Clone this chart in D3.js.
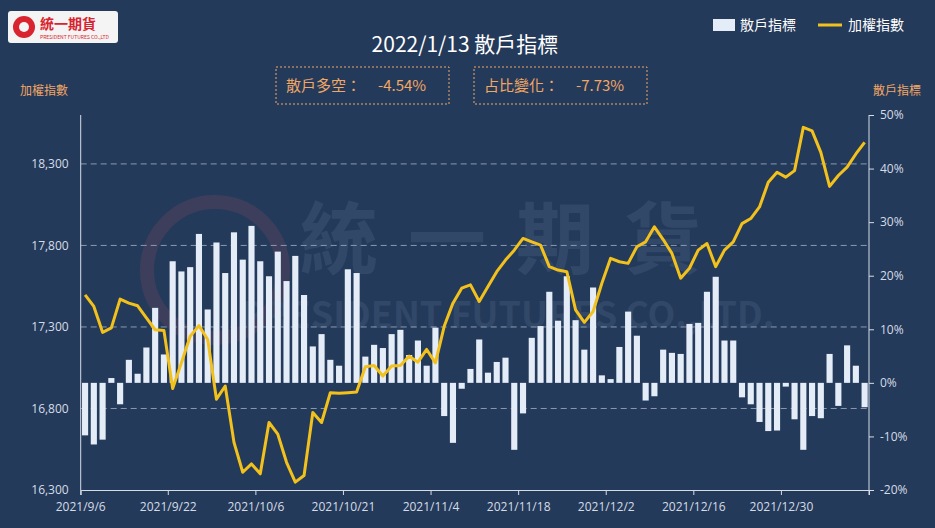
<!DOCTYPE html>
<html><head><meta charset="utf-8">
<script src="https://cdn.jsdelivr.net/npm/d3@7"></script>
<style>
body{margin:0;background:#243a5a;font-family:"Noto Sans CJK TC","Noto Sans",sans-serif;}
</style></head>
<body><svg id="c" width="935" height="528"></svg>
<script>
// 散戶指標 (%) per trading day, 2021/9/6 .. 2022/1/13
var retail = [-9.8,-11.5,-10.6,0.9,-4.0,4.3,1.7,6.6,14.0,5.3,
  22.7,20.8,21.6,27.8,13.7,26.2,20.5,28.1,23.0,29.3,
  22.7,19.9,24.5,19.0,23.7,16.4,6.8,9.1,4.3,3.2,
  21.2,20.5,4.9,7.1,6.5,9.1,9.9,5.2,7.9,3.2,
  10.3,-6.2,-11.2,-1.1,2.6,8.1,1.9,3.9,4.7,-12.5,
  -5.7,8.4,10.6,17.0,11.6,19.9,11.7,6.2,17.8,1.4,
  0.7,6.7,13.3,8.8,-3.3,-2.5,6.2,5.6,5.4,11.0,
  11.2,17.0,19.8,7.9,7.9,-2.7,-4.0,-7.3,-9.0,-8.9,
  -0.7,-6.8,-12.5,-6.2,-6.6,5.4,-4.3,7.0,3.2,-4.54];
// 加權指數
var taiex = [17497,17426,17267,17294,17471,17446,17430,17355,17283,17279,
  16922,17080,17243,17308,17223,16857,16938,16592,16409,16460,
  16399,16714,16643,16470,16348,16389,16775,16714,16897,16893,
  16897,16901,17056,17064,16999,17060,17064,17121,17084,17162,
  17080,17304,17446,17538,17558,17456,17548,17639,17710,17771,
  17843,17822,17802,17670,17649,17639,17405,17328,17395,17568,
  17721,17700,17690,17792,17822,17914,17836,17751,17599,17660,
  17771,17812,17670,17771,17822,17934,17965,18036,18188,18249,
  18219,18259,18524,18503,18371,18162,18229,18280,18361,18432];
var dateLabels = ["2021/9/6","2021/9/22","2021/10/6","2021/10/21","2021/11/4",
  "2021/11/18","2021/12/2","2021/12/16","2021/12/30"];
var leftTicks = [16300,16800,17300,17800,18300];
var rightTicks = [-0.2,-0.1,0,0.1,0.2,0.3,0.4,0.5];

var svg = d3.select("#c");
var L = 80.7, R = 869, T = 115, B = 490;
var idx = d3.range(retail.length);
var x = d3.scaleBand().domain(idx).range([L, R]).paddingInner(0.3).paddingOuter(0.15);
var yl = d3.scaleLinear().domain([16300, 18600]).range([B, T]);
var yr = d3.scaleLinear().domain([-20, 50]).range([B, T]);
var light = "#d6dce6";

svg.append("rect").attr("width", 935).attr("height", 528).attr("fill", "#243a5a");

// watermark
var wm = svg.append("g").attr("opacity", 0.13);
wm.append("circle").attr("cx", 215).attr("cy", 270).attr("r", 68).attr("fill", "none").attr("stroke", "#e05a6a").attr("stroke-width", 14);
wm.append("text").attr("x", 300).attr("y", 268).attr("font-size", 78).attr("font-weight", 700).attr("fill", "#8fa6c8").attr("letter-spacing", 30).text("統一期貨");
wm.append("text").attr("x", 240).attr("y", 328).attr("font-size", 36).attr("font-weight", 700).attr("fill", "#8fa6c8").text("PRESIDENT FUTURES CO.,LTD.");

// grid
svg.append("g").selectAll("line").data(leftTicks.slice(1)).enter().append("line")
  .attr("x1", L).attr("x2", R).attr("y1", yl).attr("y2", yl)
  .attr("stroke", "#8a9ab0").attr("stroke-dasharray", "6,4").attr("stroke-width", 1);

// axes
var ax = svg.append("g").attr("transform", "translate(0," + B + ")")
  .call(d3.axisBottom(x).tickValues(idx.filter(function(i){ return i % 10 == 0; }))
    .tickFormat(function(i){ return dateLabels[i / 10]; }).tickSize(5));
ax.selectAll(".tick").attr("transform", function(i){ return "translate(" + (L + i * (R - L) / retail.length) + ",0)"; });
ax.append("line").attr("x1", R).attr("x2", R).attr("y2", 5).attr("stroke", light);
var ay = svg.append("g").attr("transform", "translate(" + L + ",0)")
  .call(d3.axisLeft(yl).tickValues(leftTicks).tickSize(0).tickPadding(12).tickFormat(d3.format(",")));
ay.select(".domain").attr("d", "M0," + T + "V" + B);
var ar = svg.append("g").attr("transform", "translate(" + R + ",0)")
  .call(d3.axisRight(yr).tickValues(rightTicks.map(function(d){ return d * 100; })).tickSize(5).tickPadding(6)
    .tickFormat(function(d){ return d + "%"; }));
ar.select(".domain").attr("d", "M0," + T + "V" + B);
[ax, ay, ar].forEach(function(g){
  g.selectAll("text").attr("fill", light).attr("font-size", 12).attr("font-family", "Open Sans, sans-serif");
  g.selectAll("line,path").attr("stroke", light);
});
ax.selectAll("text").attr("dy", "1.1em");

// bars
svg.append("g").selectAll("rect").data(retail).enter().append("rect")
  .attr("x", function(d, i){ return x(i); })
  .attr("width", x.bandwidth())
  .attr("y", function(d){ return yr(Math.max(0, d)); })
  .attr("height", function(d){ return Math.abs(yr(d) - yr(0)); })
  .attr("fill", "#e4ecf8");

// line
svg.append("path").datum(taiex)
  .attr("d", d3.line().x(function(d, i){ return x(i) + x.bandwidth() / 2; }).y(yl))
  .attr("fill", "none").attr("stroke", "#f3c11c").attr("stroke-width", 3).attr("stroke-linejoin", "round");

// titles
svg.append("text").attr("x", 465).attr("y", 52).attr("text-anchor", "middle").attr("fill", "#fff").attr("font-size", 21).text("2022/1/13  散戶指標");
var orange = "#f2a765";
[[276, "散戶多空：", "-4.54%"], [474, "占比變化：", "-7.73%"]].forEach(function(b){
  svg.append("rect").attr("x", b[0]).attr("y", 67).attr("width", 173).attr("height", 37)
    .attr("fill", "none").attr("stroke", orange).attr("stroke-dasharray", "2,2");
  svg.append("text").attr("x", b[0] + 10).attr("y", 91).attr("fill", orange).attr("font-size", 15).text(b[1]);
  svg.append("text").attr("x", b[0] + 102).attr("y", 91).attr("fill", orange).attr("font-size", 15).text(b[2]);
});
svg.append("text").attr("x", 20).attr("y", 95).attr("fill", orange).attr("font-size", 12).text("加權指數");
svg.append("text").attr("x", 873).attr("y", 95).attr("fill", orange).attr("font-size", 12).text("散戶指標");

// legend
svg.append("rect").attr("x", 713).attr("y", 19).attr("width", 22).attr("height", 12).attr("fill", "#e4ecf8");
svg.append("text").attr("x", 740).attr("y", 30).attr("fill", "#fff").attr("font-size", 14).text("散戶指標");
svg.append("line").attr("x1", 818).attr("x2", 842).attr("y1", 25).attr("y2", 25).attr("stroke", "#f3c11c").attr("stroke-width", 3);
svg.append("text").attr("x", 848).attr("y", 30).attr("fill", "#fff").attr("font-size", 14).text("加權指數");

// logo
svg.append("rect").attr("x", 8).attr("y", 11).attr("width", 110).attr("height", 32).attr("rx", 3).attr("fill", "#f4f4f4");
svg.append("circle").attr("cx", 24).attr("cy", 27).attr("r", 11).attr("fill", "#d9232e");
svg.append("circle").attr("cx", 24).attr("cy", 27).attr("r", 5).attr("fill", "#f4f4f4");
svg.append("text").attr("x", 40).attr("y", 29).attr("fill", "#d9232e").attr("font-size", 14).attr("font-weight", 700).text("統一期貨");
svg.append("text").attr("x", 40).attr("y", 39).attr("fill", "#d9232e").attr("font-size", 5).text("PRESIDENT FUTURES CO.,LTD");
</script></body></html>
